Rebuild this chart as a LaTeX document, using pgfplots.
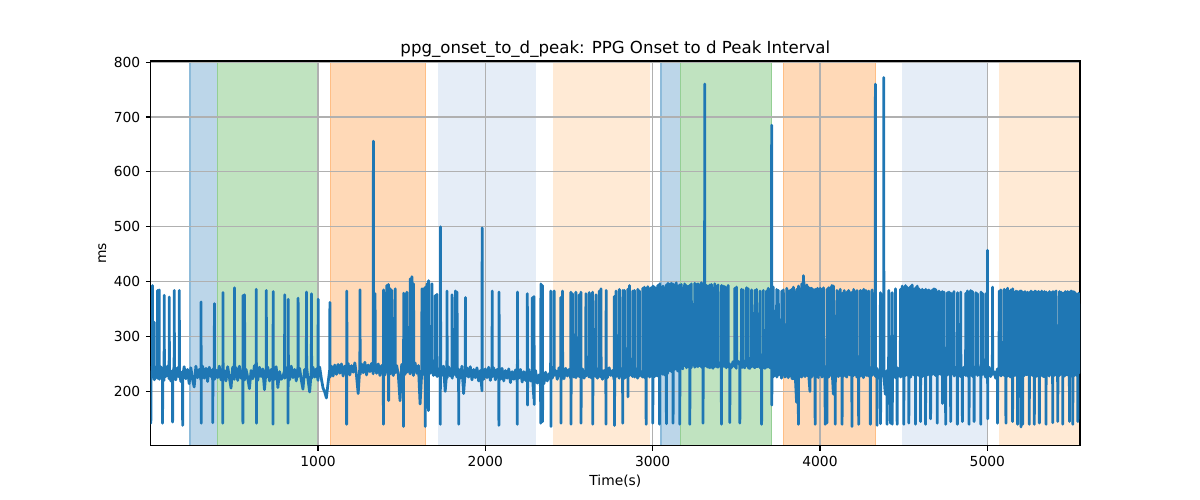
\documentclass[border=0pt]{standalone}
\usepackage{fontspec}
\setmainfont{DejaVu Sans}
\usepackage{pgfplots}
\pgfplotsset{compat=1.18}
\definecolor{tabblue}{HTML}{1F77B4}
\definecolor{spanA}{RGB}{188,214,233}
\definecolor{spanAe}{RGB}{141,187,218}
\definecolor{spanG}{RGB}{192,227,192}
\definecolor{spanGe}{RGB}{148,207,148}
\definecolor{spanO}{RGB}{255,217,183}
\definecolor{spanOe}{RGB}{255,190,133}
\definecolor{spanLB}{RGB}{229,237,247}
\definecolor{spanLO}{RGB}{255,234,213}
\definecolor{gridgray}{HTML}{B0B0B0}
\begin{document}
\begin{tikzpicture}
\useasboundingbox (-108.9pt,-39.2pt) rectangle (758.3pt,322.1pt);
\begin{axis}[
  at={(0,0)}, anchor=south west,
  width=671.6pt, height=278.0pt, scale only axis,
  xmin=0, xmax=5554, ymin=101, ymax=802,
  hide axis,
]
\addplot[fill=spanA, draw=spanAe, line width=0.8pt] coordinates {(235,0) (235,900) (398,900) (398,0)} -- cycle;
\addplot[fill=spanG, draw=spanGe, line width=0.8pt] coordinates {(398,0) (398,900) (1001,900) (1001,0)} -- cycle;
\addplot[fill=spanO, draw=spanOe, line width=0.8pt] coordinates {(1072,0) (1072,900) (1643,900) (1643,0)} -- cycle;
\addplot[fill=spanLB, draw=none] coordinates {(1715,0) (1715,900) (2301,900) (2301,0)} -- cycle;
\addplot[fill=spanLO, draw=none] coordinates {(2405,0) (2405,900) (2985,900) (2985,0)} -- cycle;
\addplot[fill=spanA, draw=spanAe, line width=0.8pt] coordinates {(3050,0) (3050,900) (3168,900) (3168,0)} -- cycle;
\addplot[fill=spanG, draw=spanGe, line width=0.8pt] coordinates {(3168,0) (3168,900) (3712,900) (3712,0)} -- cycle;
\addplot[fill=spanO, draw=spanOe, line width=0.8pt] coordinates {(3780,0) (3780,900) (4334,900) (4334,0)} -- cycle;
\addplot[fill=spanLB, draw=none] coordinates {(4491,0) (4491,900) (4997,900) (4997,0)} -- cycle;
\addplot[fill=spanLO, draw=none] coordinates {(5071,0) (5071,900) (5560,900) (5560,0)} -- cycle;
\end{axis}
\begin{axis}[
  at={(0,0)}, anchor=south west,
  width=671.6pt, height=278.0pt, scale only axis,
  xmin=0, xmax=5554, ymin=101, ymax=802,
  xtick={1000,2000,3000,4000,5000},
  ytick={200,300,400,500,600,700,800},
  grid=major,
  major grid style={color=gridgray, line width=0.8pt},
  axis line style={line width=0.8pt, black},
  tick style={line width=0.8pt, black},
  tick align=outside, major tick length=3.5pt,
  xtick pos=bottom, ytick pos=left,
  /pgf/number format/assume math mode=true,
  /pgf/number format/1000 sep={},
  tick label style={font=\fontsize{10}{12}\selectfont},
  xticklabel style={anchor=north, inner sep=0pt},
  xticklabel shift=3.9pt,
  yticklabel style={anchor=east, inner sep=0pt},
  yticklabel shift=3.9pt,
  title={ppg\_onset\_to\_d\_peak: PPG Onset to d Peak Interval},
  title style={at={(axis description cs:0.5,1)}, anchor=base, inner sep=0pt, yshift=-0.4pt, font=\fontsize{12}{14}\selectfont},
  xlabel={Time(s)},
  xlabel style={at={(axis description cs:0.5,0)}, anchor=base, inner sep=0pt, yshift=-28.6pt, font=\fontsize{10}{12}\selectfont},
  ylabel={ms},
  ylabel style={at={([xshift=-31.8pt]axis description cs:0,0.5)}, anchor=south, inner sep=0pt, font=\fontsize{10}{12}\selectfont},
]
\addplot[color=tabblue, line width=2pt, line join=round, mark=none] coordinates {
(0,238)(1,142)(2,232) (10,226)(11,393)(12,240) (20,230)(21,326)(22,221) (30,244) (40,224)(41,384)(42,238) (50,229)(51,385)(52,222) (60,245) (70,231)(71,142)(72,236) (80,220)(81,375)(82,241) (90,227)
(100,246) (110,223)(111,372)(112,240) (120,219) (130,238)(131,144)(132,226) (140,247)(141,384)(142,228) (150,221) (160,243) (170,226)(171,384)(172,239) (180,218) (190,236)(191,138)(192,229)
(200,245) (210,223) (220,240) (230,214) (240,243) (250,222) (260,208) (270,246) (280,225) (290,240)
(300,221)(301,363)(302,142)(303,236) (310,246) (320,224) (330,242) (340,218) (350,244) (360,227) (370,240)(371,143)(372,226) (380,245)(381,360)(382,222) (390,239)
(400,225) (410,246) (420,221) (430,242)(431,142)(432,380)(433,227) (440,238) (450,219) (460,245) (470,226) (480,206) (490,244)
(500,222)(501,389)(502,236) (510,243) (520,220) (530,246) (540,224) (550,239)(551,142)(552,375)(553,228) (560,243)(561,376)(562,221) (570,240) (580,225) (590,205)
(600,238) (610,223) (620,247) (630,226)(631,386)(632,142)(633,241) (640,220) (650,244) (660,227) (670,241) (680,203) (690,240)(691,384)(692,226)
(700,244) (710,219) (720,240) (730,226)(731,140)(732,382)(733,237) (740,222) (750,245) (760,207) (770,236) (780,222) (790,226)
(800,238)(801,376)(802,224) (810,243) (820,228)(821,142)(822,368)(823,239) (830,221) (840,246) (850,225) (860,240) (870,219) (880,244)(881,370)(882,227) (890,242)
(900,221) (910,204) (920,240) (930,226)(931,381)(932,245) (940,222) (950,199) (960,238)(961,378)(962,224) (970,244) (980,226) (990,241)
(1000,220)(1001,368)(1002,238) (1010,244) (1020,223) (1030,206) (1040,199) (1050,188) (1060,215) (1070,240)(1071,362)(1072,226) (1080,246) (1090,228)
(1100,248) (1110,231) (1120,249) (1130,233) (1140,250) (1150,228) (1160,246) (1170,232)(1171,140)(1172,383)(1173,240) (1180,251) (1190,230)
(1200,247) (1210,235) (1220,252) (1230,229) (1240,196) (1250,245)(1251,385)(1252,231) (1260,250) (1270,234) (1280,253) (1290,230)
(1300,248) (1310,236) (1320,251) (1330,232)(1331,656)(1332,245) (1340,238)(1341,378)(1342,249) (1350,233) (1360,250) (1370,229) (1380,247) (1390,235)(1391,140)(1392,385)(1393,244)
(1400,230) (1410,248)(1411,393)(1412,236) (1420,251)(1421,395)(1422,183)(1423,240) (1430,246)(1431,387)(1432,232) (1440,250)(1441,384)(1442,237) (1450,229) (1460,252)(1461,387)(1462,234) (1470,247) (1480,230) (1490,183)
(1500,249) (1510,236)(1511,136)(1512,379)(1513,244) (1520,231) (1530,250)(1531,381)(1532,235) (1540,248) (1550,232)(1551,405)(1552,245) (1560,236)(1561,409)(1562,250) (1570,229)(1571,396)(1572,241) (1580,252) (1590,233)
(1600,247) (1610,177) (1620,236)(1621,387)(1622,250) (1630,231)(1631,387)(1632,246) (1640,236)(1641,136)(1642,390)(1643,241) (1650,249)(1651,396)(1652,232) (1660,165)(1661,402)(1662,247) (1670,233) (1680,250)(1681,396)(1682,238) (1690,229)
(1700,244)(1701,375)(1702,230) (1710,247)(1711,377)(1712,227) (1720,241) (1730,226)(1731,140)(1732,500)(1733,243) (1740,229) (1750,246) (1760,200) (1770,237)(1771,383)(1772,225) (1780,245) (1790,228)
(1800,242)(1801,376)(1802,224) (1810,247) (1820,230)(1821,383)(1822,241) (1830,226)(1831,381)(1832,244) (1840,231)(1841,140)(1842,240) (1850,224) (1860,246) (1870,196) (1880,238)(1881,371)(1882,227) (1890,243)
(1900,226) (1910,245) (1920,221) (1930,240) (1940,225) (1950,243) (1960,219) (1970,238) (1980,201)(1981,498)(1982,236) (1990,222)
(2000,241) (2010,225) (2020,244) (2030,220) (2040,238)(2041,383)(2042,227) (2050,243) (2060,221) (2070,240) (2080,224)(2081,138)(2082,381)(2083,238) (2090,222)
(2100,242) (2110,219) (2120,238) (2130,224) (2140,241) (2150,216) (2160,236) (2170,222) (2180,239) (2190,218)(2191,140)(2192,381)(2193,235)
(2200,224) (2210,240) (2220,217) (2230,236) (2240,220) (2250,238)(2251,378)(2252,175)(2253,226) (2260,240) (2270,219) (2280,236)(2281,371)(2282,226) (2290,187)(2291,373)(2292,176)(2293,229)
(2300,238) (2310,215) (2320,230) (2330,208)(2331,142)(2332,396)(2333,236) (2340,224)(2341,393)(2342,145)(2343,230) (2350,214) (2360,235) (2370,219) (2380,232) (2390,226)(2391,383)(2392,136)(2393,238)
(2400,224) (2410,241)(2411,383)(2412,229) (2420,238) (2430,222) (2440,243) (2450,226)(2451,371)(2452,142)(2453,238) (2460,227)(2461,383)(2462,240) (2470,223) (2480,242) (2490,228)
(2500,240) (2510,224)(2511,381)(2512,140)(2513,236) (2520,231)(2521,378)(2522,243) (2530,226) (2540,240)(2541,381)(2542,225) (2550,243) (2560,227)(2561,376)(2562,238) (2570,233)(2571,381)(2572,142)(2573,226) (2580,241) (2590,224)
(2600,239)(2601,378)(2602,228) (2610,243) (2620,226)(2621,380)(2622,240) (2630,231)(2631,376)(2632,225) (2640,238)(2641,381)(2642,140)(2643,234) (2650,242) (2660,227)(2661,376)(2662,238) (2670,224) (2680,241)(2681,383)(2682,232) (2690,226)(2691,387)(2692,243)
(2700,222) (2710,238) (2720,226)(2721,140)(2722,384)(2723,241) (2730,225) (2740,243) (2750,229) (2760,238) (2770,221)(2771,373)(2772,138)(2773,236) (2780,242)(2781,383)(2782,227) (2790,239)
(2800,224)(2801,386)(2802,240) (2810,228) (2820,243)(2821,142)(2822,384)(2823,226) (2830,239)(2831,384)(2832,224) (2840,241) (2850,226)(2851,386)(2852,190)(2853,238) (2860,244)(2861,393)(2862,229) (2870,240) (2880,227)(2881,383)(2882,243) (2890,230)(2891,384)(2892,226)
(2900,241) (2910,224)(2911,386)(2912,239) (2920,244)(2921,383)(2922,228) (2930,236) (2940,226)(2941,388)(2942,242) (2950,231)(2951,390)(2952,225) (2960,240)(2961,140)(2962,388)(2963,237) (2970,228)(2971,391)(2972,244) (2980,233)(2981,387)(2982,226) (2990,243)(2991,389)(2992,236)
(3000,229)(3001,142)(3002,392)(3003,244) (3010,236)(3011,390)(3012,227) (3020,245)(3021,388)(3022,233) (3030,228)(3031,393)(3032,246) (3040,240)(3041,140)(3042,396)(3043,232) (3050,247)(3051,390)(3052,236) (3060,231)(3061,392)(3062,248) (3070,242)(3071,388)(3072,230) (3080,249)(3081,394)(3082,141)(3083,238) (3090,233)(3091,397)(3092,250)
(3100,238)(3101,395)(3102,244) (3110,251)(3111,397)(3112,236) (3120,243)(3121,396)(3122,142)(3123,247) (3130,252)(3131,394)(3132,240) (3140,246)(3141,398)(3142,253) (3150,237)(3151,392)(3152,245) (3160,250)(3161,394)(3162,140)(3163,243) (3170,254)(3171,395)(3172,246) (3180,241)(3181,388)(3182,255) (3190,247)(3191,396)(3192,250)
(3200,253)(3201,393)(3202,243) (3210,257)(3211,391)(3212,245) (3220,250)(3221,393)(3222,140)(3223,252) (3230,243)(3231,396)(3232,256) (3240,248) (3250,254)(3251,397)(3252,244) (3260,251)(3261,395)(3262,257) (3270,245)(3271,396)(3272,249) (3280,255)(3281,394)(3282,247) (3290,250)(3291,398)(3292,244)
(3300,256)(3301,142)(3302,243) (3310,252)(3311,760)(3312,246) (3320,255)(3321,393)(3322,247) (3330,244)(3331,392)(3332,253) (3340,249)(3341,394)(3342,243) (3350,256)(3351,395)(3352,248) (3360,242)(3361,388)(3362,255) (3370,250)(3371,396)(3372,245) (3380,254)(3381,391)(3382,246) (3390,244)(3391,394)(3392,252)
(3400,252) (3410,243)(3411,140)(3412,393)(3413,250) (3420,255)(3421,392)(3422,246) (3430,246)(3431,391)(3432,253) (3440,243)(3441,389)(3442,251) (3450,256)(3451,393)(3452,245) (3460,250)(3461,143)(3462,249) (3470,243) (3480,254) (3490,245)(3491,388)(3492,251)
(3500,242)(3501,390)(3502,250) (3510,255) (3520,248)(3521,142)(3522,246) (3530,254)(3531,386)(3532,244) (3540,244)(3541,385)(3542,252) (3550,243) (3560,255)(3561,389)(3562,247) (3570,250)(3571,387)(3572,243) (3580,242) (3590,253)(3591,385)(3592,245)
(3600,249) (3610,243)(3611,384)(3612,251) (3620,254)(3621,386)(3622,245) (3630,246) (3640,252)(3641,383)(3642,243) (3650,248)(3651,140)(3652,244) (3660,253)(3661,384)(3662,246) (3670,242) (3680,251)(3681,383)(3682,244) (3690,247)(3691,388)(3692,252)
(3700,243)(3701,385)(3702,250) (3710,246)(3711,685)(3712,175)(3713,240) (3720,226)(3721,390)(3722,238) (3730,229) (3740,244)(3741,386)(3742,226) (3750,239)(3751,384)(3752,230) (3760,243) (3770,224)(3771,383)(3772,238) (3780,230)(3781,385)(3782,244) (3790,226)
(3800,241)(3801,388)(3802,229) (3805,384)(3806,236) (3810,225)(3811,383)(3812,239) (3815,381)(3816,243) (3820,243)(3821,384)(3822,228) (3830,236)(3831,386)(3832,224) (3840,223)(3841,390)(3842,240) (3850,240)(3851,381)(3852,230) (3860,180)(3861,386)(3862,242) (3870,228)(3871,140)(3872,392)(3873,238) (3875,388)(3876,231) (3880,244)(3881,385)(3882,229) (3890,226)(3891,396)(3892,240) (3895,392)(3896,233)
(3900,231)(3901,411)(3902,244) (3905,398)(3906,229) (3910,227)(3911,392)(3912,240) (3920,241)(3921,394)(3922,229) (3925,390)(3926,238) (3930,245)(3931,390)(3932,233) (3940,200)(3941,386)(3942,240) (3945,388)(3946,230) (3950,226)(3951,388)(3952,243) (3960,230)(3961,385)(3962,242) (3970,244)(3971,140)(3972,386)(3973,228) (3980,239)(3981,384)(3982,246) (3985,388)(3986,231) (3990,225)(3991,386)(3992,240)
(4000,241)(4001,388)(4002,230) (4005,385)(4006,238) (4010,245)(4011,386)(4012,226) (4020,238)(4021,389)(4022,230) (4030,229)(4031,140)(4032,242) (4040,246)(4041,142)(4042,386)(4043,231) (4045,384)(4046,240) (4050,240)(4051,389)(4052,226) (4060,243)(4061,386)(4062,232) (4065,390)(4066,240) (4070,228)(4071,393)(4072,241) (4080,195)(4081,392)(4082,238) (4090,230)(4091,140)(4092,236)
(4100,244)(4101,384)(4102,231) (4110,227)(4111,378)(4112,240) (4115,382)(4116,233) (4120,243)(4121,386)(4122,229) (4130,229)(4131,378)(4132,140)(4133,237) (4140,245)(4141,381)(4142,228) (4145,384)(4146,239) (4150,240)(4151,380)(4152,231) (4160,226)(4161,381)(4162,243) (4170,231)(4171,384)(4172,239) (4175,382)(4176,230) (4180,244)(4181,379)(4182,236) (4190,227)(4191,136)(4192,381)(4193,240)
(4200,242)(4201,386)(4202,229) (4205,381)(4206,238) (4210,239)(4211,381)(4212,245) (4220,226)(4221,384)(4222,233) (4230,241)(4231,140)(4232,237) (4240,243)(4241,384)(4242,228) (4245,380)(4246,238) (4250,240)(4251,383)(4252,231) (4260,225)(4261,386)(4262,242) (4270,230)(4271,381)(4272,239) (4275,384)(4276,229) (4280,246)(4281,382)(4282,235) (4290,228)(4291,383)(4292,241)
(4300,237)(4301,140)(4302,243) (4310,229)(4311,385)(4312,240) (4320,244)(4321,378)(4322,231) (4330,238)(4331,760)(4332,227) (4340,242)(4341,138)(4342,236) (4350,224) (4360,241)(4361,380)(4362,141)(4363,232) (4370,228) (4380,240)(4381,772)(4382,229) (4390,195)
(4400,238)(4401,140)(4402,226) (4410,243)(4411,384)(4412,230) (4420,227)(4421,142)(4422,241) (4430,236)(4431,380)(4432,140)(4433,229) (4440,244) (4450,225)(4451,387)(4452,238) (4460,231)(4461,140)(4462,243) (4470,228) (4480,240)(4481,386)(4482,226) (4490,243)(4491,392)(4492,234)
(4500,228)(4501,140)(4502,389)(4503,243) (4510,236)(4511,393)(4512,229) (4520,245)(4521,390)(4522,238) (4530,227)(4531,142)(4532,388)(4533,244) (4540,233)(4541,391)(4542,226) (4550,242)(4551,394)(4552,237) (4560,230)(4561,386)(4562,245) (4570,239)(4571,140)(4572,389)(4573,228) (4580,246)(4581,392)(4582,235) (4590,229)(4591,387)(4592,243)
(4600,238)(4601,145)(4602,384)(4603,231) (4610,244)(4611,386)(4612,227) (4620,236)(4621,384)(4622,242) (4630,229)(4631,140)(4632,386)(4633,238) (4640,245)(4641,384)(4642,230) (4650,235)(4651,385)(4652,243) (4660,227)(4661,150)(4662,383)(4663,240) (4670,242)(4671,385)(4672,231) (4680,236)(4681,387)(4682,244) (4690,229)(4691,386)(4692,238)
(4700,243)(4701,142)(4702,381)(4703,230) (4710,237)(4711,383)(4712,244) (4720,231)(4721,380)(4722,239) (4730,244)(4731,382)(4732,178)(4733,236) (4740,229)(4741,381)(4742,242) (4750,238)(4751,140)(4752,236) (4760,243)(4761,380)(4762,230) (4770,236)(4771,381)(4772,242) (4780,228)(4781,145)(4782,379)(4783,238) (4790,244)(4791,378)(4792,232)
(4800,239)(4801,382)(4802,228) (4810,244) (4820,231)(4821,140)(4822,380)(4823,240) (4830,236) (4840,227)(4841,381)(4842,243) (4850,238)(4851,145)(4852,231) (4860,244) (4870,229)(4871,379)(4872,240) (4880,236)(4881,383)(4882,228) (4890,243)(4891,140)(4892,381)(4893,234)
(4900,230)(4901,384)(4902,242) (4910,238)(4911,382)(4912,227) (4920,244)(4921,145)(4922,236) (4930,231)(4931,380)(4932,242) (4940,237)(4941,378)(4942,229) (4950,243) (4960,228)(4961,140)(4962,381)(4963,238) (4970,241)(4971,379)(4972,231) (4980,236) (4990,226)(4991,378)(4992,240)
(5000,233)(5001,457)(5002,150)(5003,238) (5010,244) (5020,227) (5030,240)(5031,390)(5032,231) (5040,236) (5050,224) (5060,241)(5061,142)(5062,236) (5070,230)(5071,383)(5072,243) (5080,236)(5081,385)(5082,228) (5090,242)
(5100,229)(5101,386)(5102,240) (5105,383)(5106,232) (5110,236)(5111,142)(5112,384)(5113,231) (5120,243)(5121,388)(5122,228) (5125,384)(5126,238) (5130,238)(5131,381)(5132,229) (5140,226)(5141,385)(5142,241) (5150,233)(5151,145)(5152,387)(5153,238) (5155,382)(5156,230) (5160,244)(5161,380)(5162,229) (5170,237)(5171,383)(5172,230) (5180,227)(5181,140)(5182,382)(5183,242) (5190,235)(5191,380)(5192,228) (5195,383)(5196,237)
(5200,243)(5201,135)(5202,383)(5203,236) (5205,381)(5206,229) (5210,229)(5211,140)(5212,381)(5213,241) (5220,237)(5221,379)(5222,229) (5225,382)(5226,238) (5230,244)(5231,380)(5232,231) (5240,231)(5241,381)(5242,240) (5250,236)(5251,140)(5252,380)(5253,228) (5255,379)(5256,238) (5260,243)(5261,383)(5262,235) (5270,229)(5271,381)(5272,240) (5280,241)(5281,140)(5282,379)(5283,236) (5285,383)(5286,229) (5290,227)(5291,382)(5292,243)
(5300,235)(5301,380)(5302,228) (5305,382)(5306,239) (5310,243)(5311,142)(5312,381)(5313,236) (5320,229)(5321,380)(5322,241) (5325,383)(5326,232) (5330,236)(5331,381)(5332,228) (5340,227)(5341,382)(5342,243) (5350,235)(5351,140)(5352,381)(5353,229) (5355,380)(5356,238) (5360,242)(5361,379)(5362,236) (5370,228)(5371,382)(5372,240) (5380,243)(5381,380)(5382,231) (5390,237)(5391,143)(5392,382)(5393,242)
(5400,229)(5401,381)(5402,236) (5405,379)(5406,230) (5410,243)(5411,383)(5412,235) (5420,228)(5421,145)(5422,241) (5430,237)(5431,382)(5432,229) (5435,380)(5436,240) (5440,244)(5441,381)(5442,236) (5450,230)(5451,140)(5452,379)(5453,242) (5460,236)(5461,380)(5462,228) (5465,382)(5466,238) (5470,243)(5471,381)(5472,232) (5480,230)(5481,382)(5482,238) (5490,244)(5491,145)(5492,381)(5493,231)
(5500,237)(5501,383)(5502,228) (5505,380)(5506,239) (5510,243)(5511,140)(5512,382)(5513,236) (5520,229)(5521,381)(5522,242) (5530,236)(5531,378)(5532,230) (5540,228)(5541,145)(5542,240) (5545,379)(5546,233) (5550,360)
};
\end{axis}
\end{tikzpicture}
\end{document}
